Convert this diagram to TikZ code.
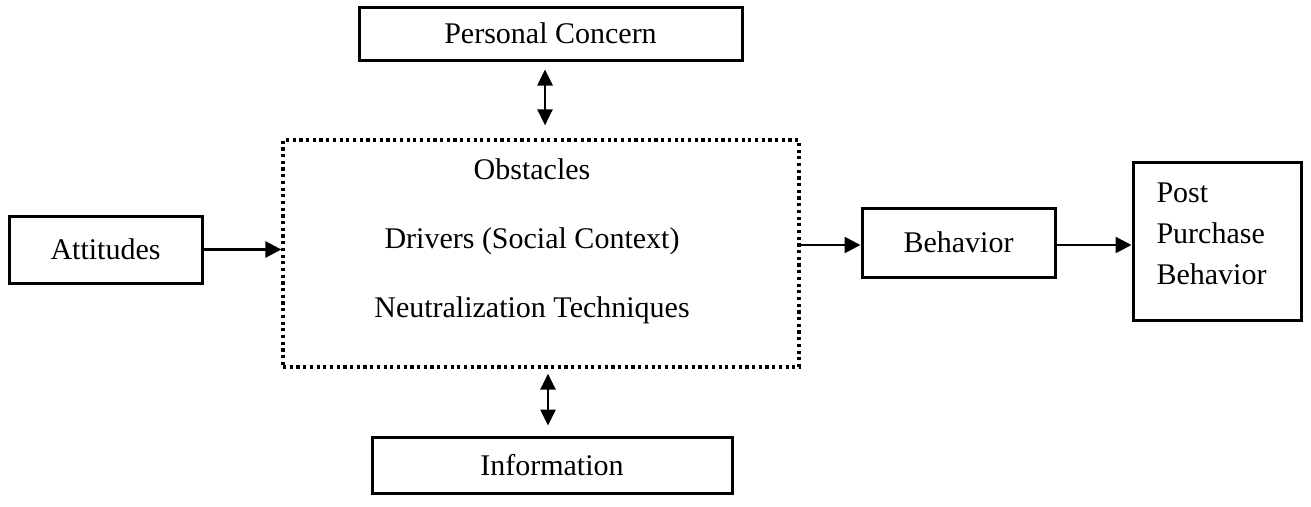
\documentclass[tikz,border=0pt]{standalone}
\usepackage{fontspec}
\setmainfont{Liberation Serif}
\usetikzlibrary{arrows.meta}
\tikzset{
  box/.style={draw,line width=3pt,inner sep=0pt,font=\fontsize{30}{40}\selectfont},
  factorbox/.style={draw,line width=3.2pt,dash pattern=on 3.2pt off 3.5pt,inner sep=0pt},
  link/.style={line width=2.6pt,-{Triangle[length=16pt,width=16pt]}},
  twoway/.style={line width=2.6pt,{Triangle[length=16pt,width=15pt]}-{Triangle[length=16pt,width=15pt]}}
}
\begin{document}
\begin{tikzpicture}[x=1pt,y=-1pt]
\useasboundingbox (0,0) rectangle (1311,506);
\node[box,minimum width=383pt,minimum height=53pt] (concern) at (550.5,33.5) {Personal Concern};
\node[factorbox,minimum width=516pt,minimum height=227pt] (mid) at (541,253.5) {};
\node[align=center,font=\fontsize{30}{69}\selectfont] (factors) at (532,241) {Obstacles\\Drivers (Social Context)\\Neutralization Techniques};
\node[box,minimum width=193pt,minimum height=67pt] (att) at (105.5,249.5) {Attitudes};
\node[box,minimum width=193pt,minimum height=69pt] (behav) at (958.5,242.5) {Behavior};
\node[box,minimum width=168pt,minimum height=158pt] (post) at (1217,241) {};
\node[align=left,anchor=west,font=\fontsize{30}{41}\selectfont] (posttext) at (1153,234) {Post\\Purchase\\Behavior};
\node[box,minimum width=360pt,minimum height=56pt] (info) at (552,465) {Information};
\draw[link] (att.east) -- (att.east -| mid.west);
\draw[link] ([yshift=-2.5pt]behav.west -| mid.east) -- ([yshift=-2.5pt]behav.west);
\draw[link] ([yshift=-2.5pt]behav.east) -- ([yshift=-2.5pt]behav.east -| post.west);
\draw[twoway,shorten <=8pt,shorten >=13pt] (545,0 |- concern.south) -- (545,0 |- mid.north);
\draw[twoway,shorten <=5pt,shorten >=10pt] (548,0 |- mid.south) -- (548,0 |- info.north);
\end{tikzpicture}
\end{document}
